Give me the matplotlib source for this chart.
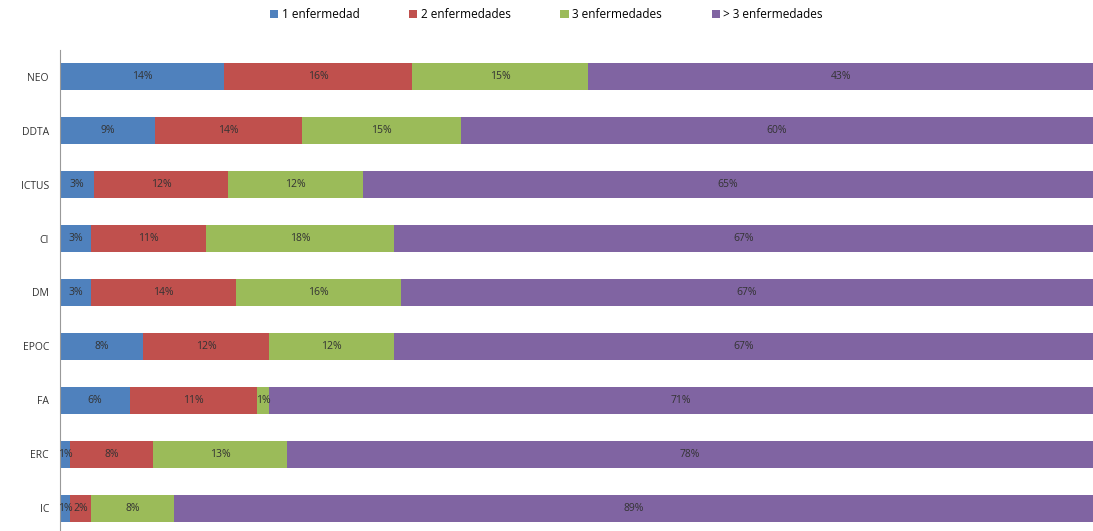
import numpy as np
import matplotlib.pyplot as plt

plt.rcParams["font.family"] = ["Open Sans", "DejaVu Sans"]

# ── Data ──────────────────────────────────────────────────────────────────────
categories = ["NEO", "DDTA", "ICTUS", "CI", "DM", "EPOC", "FA", "ERC", "IC"]
series_names = ["1 enfermedad", "2 enfermedades", "3 enfermedades", "> 3 enfermedades"]
one = [14, 9, 3, 3, 3, 8, 6, 1, 1]
two = [16, 14, 12, 11, 14, 12, 11, 8, 2]
three = [15, 15, 12, 18, 16, 12, 1, 13, 8]
more = [43, 60, 65, 67, 67, 67, 71, 78, 89]

colors = ["#4F81BD", "#C0504D", "#9BBB59", "#8064A2"]

values = np.array([one, two, three, more], dtype=float)
shares = values / values.sum(axis=0)  # 100% stacked

# ── Plot ──────────────────────────────────────────────────────────────────────
fig = plt.figure(figsize=(10.93, 5.31), dpi=100)
ax = fig.add_axes([60 / 1093, -4 / 531, 1 - 60 / 1093, 485 / 531])

y = np.arange(len(categories))
left = np.zeros(len(categories))
for i, name in enumerate(series_names):
    ax.barh(y, shares[i], left=left, height=0.5, color=colors[i], label=name,
            edgecolor="none")
    for j in range(len(categories)):
        ax.text(left[j] + shares[i, j] / 2, y[j], f"{int(values[i, j])}%",
                ha="center", va="center", fontsize=7.5, color="#333333")
    left += shares[i]

ax.set_ylim(len(categories) - 0.5, -0.5)
ax.set_xlim(0, 1)
ax.set_yticks(y)
ax.set_yticklabels(categories, fontsize=7.5, color="#333333")
ax.tick_params(axis="y", length=0, pad=8)
ax.set_xticks([])
for s in ["top", "right", "bottom"]:
    ax.spines[s].set_visible(False)
ax.spines["left"].set_color("#999999")

fig.legend(loc="upper center", bbox_to_anchor=(0.5, 1.0), ncol=4, frameon=False,
           fontsize=8.5, handlelength=0.7, handleheight=0.7, handletextpad=0.3,
           columnspacing=4.2, borderaxespad=0.3)

fig.savefig("out.png", dpi=100)
